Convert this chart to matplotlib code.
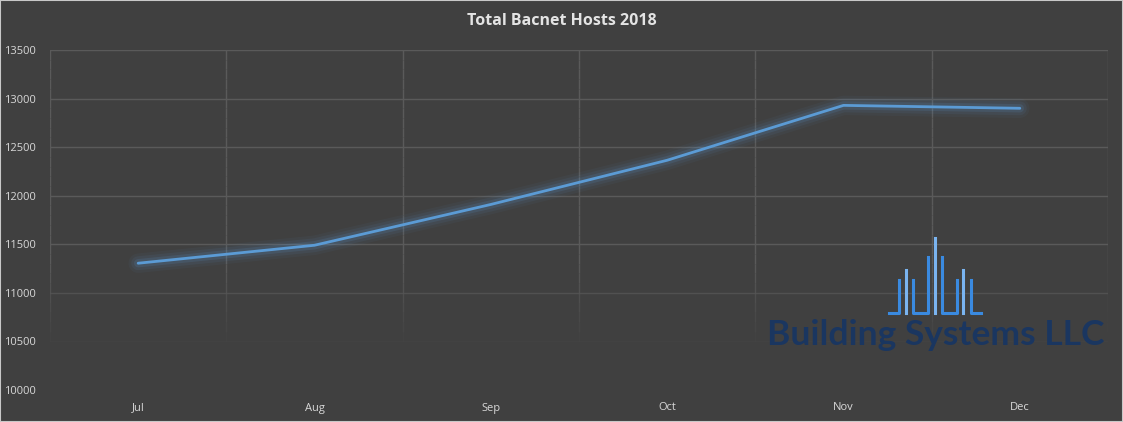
import numpy as np
import matplotlib.pyplot as plt

months = ['Jul', 'Aug', 'Sep', 'Oct', 'Nov', 'Dec']
hosts = [11305, 11490, 11910, 12365, 12930, 12900]
y_ticks = [10000, 10500, 11000, 11500, 12000, 12500, 13000, 13500]

bg = '#404040'
grid_c = '#5a5a5a'
text_c = '#d8d8d8'
line_c = '#5b9bd5'

W, H = 1123, 422
fig = plt.figure(figsize=(W / 100, H / 100), dpi=100, facecolor=bg)
fig.patches.append(plt.Rectangle((0, 0), 1, 1, transform=fig.transFigure,
                                 fill=False, edgecolor='#c8c8c8', linewidth=1.5))

ax = fig.add_axes([50 / W, 1 - 390 / H, 1058 / W, 340 / H])
ax.set_facecolor(bg)
x = np.arange(len(months))
ax.set_xlim(-0.5, len(months) - 0.5)
ax.set_ylim(10000, 13500)

# fading gridlines (Excel-style gradient)
for yv in y_ticks[1:]:
    a = min(1.0, max(0.0, (yv - 10400) / 900))
    ax.axhline(yv, color=grid_c, lw=1, alpha=a, zorder=0)
edges = np.arange(len(months) + 1) - 0.5
steps = np.linspace(13500, 10300, 33)
for xe in edges:
    for y0, y1 in zip(steps[:-1], steps[1:]):
        a = min(1.0, max(0.0, (y1 - 10400) / 900))
        ax.plot([xe, xe], [y0, y1], color=grid_c, lw=1, alpha=a, zorder=0,
                solid_capstyle='butt')

# glow
for lw, a in [(14, 0.05), (10, 0.08), (6, 0.14)]:
    ax.plot(x, hosts, color=line_c, lw=lw, alpha=a, solid_capstyle='round', zorder=2)
ax.plot(x, hosts, color=line_c, lw=2, zorder=3, solid_capstyle='round')

for s in ax.spines.values():
    s.set_visible(False)
ax.set_xticks(x)
ax.set_xticklabels(months)
ax.set_yticks(y_ticks)
ax.tick_params(length=0, colors=text_c, labelsize=8)
for lab in ax.get_xticklabels() + ax.get_yticklabels():
    lab.set_fontfamily('Open Sans')
ax.tick_params(axis='y', pad=10)
ax.tick_params(axis='x', pad=9)

fig.text(0.5, 1 - 21 / H, 'Total Bacnet Hosts 2018', ha='center', va='center',
         color='#e4e4e4', fontsize=11.5, fontweight='bold', family='Open Sans')

# logo overlay
lx = fig.add_axes([0, 0, 1, 1], facecolor='none')
lx.set_xlim(0, W)
lx.set_ylim(H, 0)
lx.axis('off')
dark_b = '#3a8ae0'
light_b = '#7ab4f0'
base = 313
lx.plot([889, 899, 899], [base, base, 280], color=dark_b, lw=2.2)
lx.plot([906, 906], [base, 270], color=light_b, lw=2.2)
lx.plot([913, 913, 928, 928], [280, base, base, 257], color=dark_b, lw=2.2)
lx.plot([935, 935], [base, 238], color=light_b, lw=2.2)
lx.plot([942, 942, 957, 957], [257, base, base, 280], color=dark_b, lw=2.2)
lx.plot([963, 963], [base, 270], color=light_b, lw=2.2)
lx.plot([971, 971, 981], [280, base, base], color=dark_b, lw=2.2)
lx.text(936, 335, 'Building Systems LLC', ha='center', va='center',
        color='#1a3660', fontsize=25.5, fontweight='bold', family='Lato')

fig.savefig('out.png', dpi=100, facecolor=bg)
